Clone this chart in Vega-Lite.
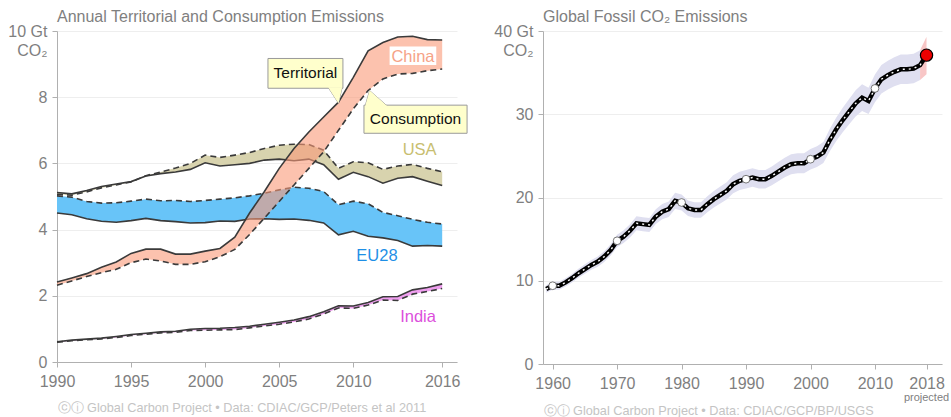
{
  "$schema": "https://vega.github.io/schema/vega-lite/v6.json",
  "background": "white",
  "padding": {"left": 7, "top": 9, "right": 2, "bottom": 2},
  "bounds": "flush",
  "spacing": 86,
  "config": {
    "font": "Liberation Sans",
    "view": {"stroke": null},
    "axis": {
      "labelFont": "Liberation Sans", "labelFontSize": 16, "labelColor": "#7f7f7f",
      "domainColor": "#b0b0b0", "tickColor": "#b0b0b0", "tickSize": 5,
      "gridColor": "#eeeeee", "titleFont": "Liberation Sans", "titleFontWeight": "normal",
      "titleFontSize": 12.7, "titleColor": "#c4c4c4", "labelOverlap": false, "labelFlush": false
    }
  },
  "datasets": {
    "emis": [
      {"c":"China","year":1990,"terr":2.42,"cons":2.32},{"c":"China","year":1991,"terr":2.54,"cons":2.45},{"c":"China","year":1992,"terr":2.67,"cons":2.58},{"c":"China","year":1993,"terr":2.86,"cons":2.7},{"c":"China","year":1994,"terr":3.02,"cons":2.8},{"c":"China","year":1995,"terr":3.28,"cons":3.0},{"c":"China","year":1996,"terr":3.41,"cons":3.11},{"c":"China","year":1997,"terr":3.41,"cons":3.05},{"c":"China","year":1998,"terr":3.26,"cons":2.95},{"c":"China","year":1999,"terr":3.26,"cons":2.95},{"c":"China","year":2000,"terr":3.35,"cons":3.03},{"c":"China","year":2001,"terr":3.43,"cons":3.18},{"c":"China","year":2002,"terr":3.77,"cons":3.4},{"c":"China","year":2003,"terr":4.5,"cons":3.85},{"c":"China","year":2004,"terr":5.15,"cons":4.35},{"c":"China","year":2005,"terr":5.85,"cons":4.85},{"c":"China","year":2006,"terr":6.45,"cons":5.35},{"c":"China","year":2007,"terr":6.95,"cons":5.85},{"c":"China","year":2008,"terr":7.4,"cons":6.35},{"c":"China","year":2009,"terr":7.85,"cons":7.0},{"c":"China","year":2010,"terr":8.6,"cons":7.65},{"c":"China","year":2011,"terr":9.4,"cons":8.2},{"c":"China","year":2012,"terr":9.65,"cons":8.55},{"c":"China","year":2013,"terr":9.82,"cons":8.7},{"c":"China","year":2014,"terr":9.84,"cons":8.72},{"c":"China","year":2015,"terr":9.74,"cons":8.8},{"c":"China","year":2016,"terr":9.73,"cons":8.85},
      {"c":"USA","year":1990,"terr":5.12,"cons":5.07},{"c":"USA","year":1991,"terr":5.08,"cons":5.04},{"c":"USA","year":1992,"terr":5.18,"cons":5.14},{"c":"USA","year":1993,"terr":5.3,"cons":5.26},{"c":"USA","year":1994,"terr":5.38,"cons":5.35},{"c":"USA","year":1995,"terr":5.45,"cons":5.44},{"c":"USA","year":1996,"terr":5.62,"cons":5.63},{"c":"USA","year":1997,"terr":5.69,"cons":5.74},{"c":"USA","year":1998,"terr":5.74,"cons":5.86},{"c":"USA","year":1999,"terr":5.82,"cons":6.0},{"c":"USA","year":2000,"terr":6.02,"cons":6.25},{"c":"USA","year":2001,"terr":5.92,"cons":6.18},{"c":"USA","year":2002,"terr":5.96,"cons":6.25},{"c":"USA","year":2003,"terr":6.0,"cons":6.33},{"c":"USA","year":2004,"terr":6.1,"cons":6.45},{"c":"USA","year":2005,"terr":6.13,"cons":6.55},{"c":"USA","year":2006,"terr":6.08,"cons":6.58},{"c":"USA","year":2007,"terr":6.13,"cons":6.57},{"c":"USA","year":2008,"terr":5.96,"cons":6.4},{"c":"USA","year":2009,"terr":5.52,"cons":5.85},{"c":"USA","year":2010,"terr":5.73,"cons":6.05},{"c":"USA","year":2011,"terr":5.6,"cons":6.02},{"c":"USA","year":2012,"terr":5.4,"cons":5.82},{"c":"USA","year":2013,"terr":5.55,"cons":5.92},{"c":"USA","year":2014,"terr":5.6,"cons":5.97},{"c":"USA","year":2015,"terr":5.46,"cons":5.85},{"c":"USA","year":2016,"terr":5.33,"cons":5.75},
      {"c":"EU28","year":1990,"terr":4.5,"cons":5.02},{"c":"EU28","year":1991,"terr":4.45,"cons":4.98},{"c":"EU28","year":1992,"terr":4.33,"cons":4.85},{"c":"EU28","year":1993,"terr":4.25,"cons":4.8},{"c":"EU28","year":1994,"terr":4.22,"cons":4.81},{"c":"EU28","year":1995,"terr":4.27,"cons":4.86},{"c":"EU28","year":1996,"terr":4.34,"cons":4.92},{"c":"EU28","year":1997,"terr":4.27,"cons":4.87},{"c":"EU28","year":1998,"terr":4.24,"cons":4.88},{"c":"EU28","year":1999,"terr":4.2,"cons":4.85},{"c":"EU28","year":2000,"terr":4.21,"cons":4.88},{"c":"EU28","year":2001,"terr":4.26,"cons":4.92},{"c":"EU28","year":2002,"terr":4.25,"cons":4.96},{"c":"EU28","year":2003,"terr":4.32,"cons":5.02},{"c":"EU28","year":2004,"terr":4.33,"cons":5.1},{"c":"EU28","year":2005,"terr":4.31,"cons":5.2},{"c":"EU28","year":2006,"terr":4.32,"cons":5.28},{"c":"EU28","year":2007,"terr":4.28,"cons":5.25},{"c":"EU28","year":2008,"terr":4.2,"cons":5.15},{"c":"EU28","year":2009,"terr":3.84,"cons":4.75},{"c":"EU28","year":2010,"terr":3.95,"cons":4.86},{"c":"EU28","year":2011,"terr":3.8,"cons":4.78},{"c":"EU28","year":2012,"terr":3.75,"cons":4.52},{"c":"EU28","year":2013,"terr":3.67,"cons":4.42},{"c":"EU28","year":2014,"terr":3.5,"cons":4.31},{"c":"EU28","year":2015,"terr":3.52,"cons":4.22},{"c":"EU28","year":2016,"terr":3.5,"cons":4.17},
      {"c":"India","year":1990,"terr":0.61,"cons":0.6},{"c":"India","year":1991,"terr":0.66,"cons":0.64},{"c":"India","year":1992,"terr":0.69,"cons":0.67},{"c":"India","year":1993,"terr":0.72,"cons":0.7},{"c":"India","year":1994,"terr":0.77,"cons":0.74},{"c":"India","year":1995,"terr":0.83,"cons":0.8},{"c":"India","year":1996,"terr":0.87,"cons":0.84},{"c":"India","year":1997,"terr":0.91,"cons":0.88},{"c":"India","year":1998,"terr":0.93,"cons":0.9},{"c":"India","year":1999,"terr":0.99,"cons":0.95},{"c":"India","year":2000,"terr":1.01,"cons":0.96},{"c":"India","year":2001,"terr":1.02,"cons":0.97},{"c":"India","year":2002,"terr":1.04,"cons":0.98},{"c":"India","year":2003,"terr":1.08,"cons":1.03},{"c":"India","year":2004,"terr":1.14,"cons":1.09},{"c":"India","year":2005,"terr":1.2,"cons":1.14},{"c":"India","year":2006,"terr":1.27,"cons":1.21},{"c":"India","year":2007,"terr":1.37,"cons":1.3},{"c":"India","year":2008,"terr":1.52,"cons":1.45},{"c":"India","year":2009,"terr":1.7,"cons":1.63},{"c":"India","year":2010,"terr":1.69,"cons":1.62},{"c":"India","year":2011,"terr":1.8,"cons":1.72},{"c":"India","year":2012,"terr":1.97,"cons":1.87},{"c":"India","year":2013,"terr":1.98,"cons":1.86},{"c":"India","year":2014,"terr":2.18,"cons":2.05},{"c":"India","year":2015,"terr":2.25,"cons":2.13},{"c":"India","year":2016,"terr":2.36,"cons":2.22}
    ],
    "ptr": [
      {"id":"T","year":2008.3,"v":8.3,"v2":8.3},{"id":"T","year":2009.0,"v":7.82,"v2":8.3},{"id":"T","year":2009.25,"v":8.3,"v2":8.3},
      {"id":"C","year":2010.8,"v":7.73,"v2":7.73},{"id":"C","year":2011.1,"v":8.2,"v2":7.73},{"id":"C","year":2012.3,"v":7.73,"v2":7.73}
    ],
    "box": [
      {"id":"T","year":2004.24,"year2":2009.3,"v":8.27,"v2":9.17},
      {"id":"C","year":2010.72,"year2":2017.68,"v":6.91,"v2":7.76}
    ],
    "callout": [
      {"t":"Territorial","year":2006.77,"v":8.72},
      {"t":"Consumption","year":2014.2,"v":7.34}
    ],
    "chinabox": [{"year":2012.45,"year2":2015.6,"v":8.97,"v2":9.53}],
    "clabels": [
      {"t":"China","year":2014.03,"v":9.22},
      {"t":"USA","year":2014.48,"v":6.4},
      {"t":"EU28","year":2011.6,"v":3.2},
      {"t":"India","year":2014.37,"v":1.37}
    ],
    "global": [
      {"year":1959,"v":9.0,"lo":8.55,"hi":9.45},{"year":1960,"v":9.4,"lo":8.93,"hi":9.87},{"year":1961,"v":9.4,"lo":8.93,"hi":9.87},{"year":1962,"v":9.8,"lo":9.31,"hi":10.29},{"year":1963,"v":10.3,"lo":9.79,"hi":10.82},{"year":1964,"v":10.9,"lo":10.36,"hi":11.45},{"year":1965,"v":11.4,"lo":10.83,"hi":11.97},{"year":1966,"v":11.9,"lo":11.31,"hi":12.5},{"year":1967,"v":12.3,"lo":11.69,"hi":12.92},{"year":1968,"v":12.9,"lo":12.26,"hi":13.55},{"year":1969,"v":13.7,"lo":13.02,"hi":14.39},
      {"year":1970,"v":14.8,"lo":14.06,"hi":15.54},{"year":1971,"v":15.3,"lo":14.54,"hi":16.07},{"year":1972,"v":16.0,"lo":15.2,"hi":16.8},{"year":1973,"v":16.9,"lo":16.06,"hi":17.75},{"year":1974,"v":16.8,"lo":15.96,"hi":17.64},{"year":1975,"v":16.7,"lo":15.87,"hi":17.54},{"year":1976,"v":17.7,"lo":16.82,"hi":18.59},{"year":1977,"v":18.3,"lo":17.39,"hi":19.22},{"year":1978,"v":18.6,"lo":17.67,"hi":19.53},{"year":1979,"v":19.6,"lo":18.62,"hi":20.58},
      {"year":1980,"v":19.4,"lo":18.43,"hi":20.37},{"year":1981,"v":18.7,"lo":17.77,"hi":19.64},{"year":1982,"v":18.5,"lo":17.58,"hi":19.43},{"year":1983,"v":18.5,"lo":17.58,"hi":19.43},{"year":1984,"v":19.2,"lo":18.24,"hi":20.16},{"year":1985,"v":19.8,"lo":18.81,"hi":20.79},{"year":1986,"v":20.3,"lo":19.29,"hi":21.32},{"year":1987,"v":20.8,"lo":19.76,"hi":21.84},{"year":1988,"v":21.6,"lo":20.52,"hi":22.68},{"year":1989,"v":22.0,"lo":20.9,"hi":23.1},
      {"year":1990,"v":22.2,"lo":21.09,"hi":23.31},{"year":1991,"v":22.4,"lo":21.28,"hi":23.52},{"year":1992,"v":22.2,"lo":21.09,"hi":23.31},{"year":1993,"v":22.2,"lo":21.09,"hi":23.31},{"year":1994,"v":22.6,"lo":21.47,"hi":23.73},{"year":1995,"v":23.1,"lo":21.95,"hi":24.26},{"year":1996,"v":23.6,"lo":22.42,"hi":24.78},{"year":1997,"v":24.0,"lo":22.8,"hi":25.2},{"year":1998,"v":24.1,"lo":22.9,"hi":25.31},{"year":1999,"v":24.1,"lo":22.9,"hi":25.31},
      {"year":2000,"v":24.6,"lo":23.37,"hi":25.83},{"year":2001,"v":24.9,"lo":23.66,"hi":26.15},{"year":2002,"v":25.4,"lo":24.13,"hi":26.67},{"year":2003,"v":26.9,"lo":25.56,"hi":28.25},{"year":2004,"v":28.2,"lo":26.79,"hi":29.61},{"year":2005,"v":29.3,"lo":27.84,"hi":30.77},{"year":2006,"v":30.3,"lo":28.79,"hi":31.82},{"year":2007,"v":31.3,"lo":29.74,"hi":32.87},{"year":2008,"v":32.0,"lo":30.4,"hi":33.6},{"year":2009,"v":31.6,"lo":30.02,"hi":33.18},
      {"year":2010,"v":33.1,"lo":31.45,"hi":34.76},{"year":2011,"v":34.2,"lo":32.49,"hi":35.91},{"year":2012,"v":34.7,"lo":32.97,"hi":36.44},{"year":2013,"v":35.1,"lo":33.35,"hi":36.86},{"year":2014,"v":35.4,"lo":33.63,"hi":37.17},{"year":2015,"v":35.4,"lo":33.63,"hi":37.17},{"year":2016,"v":35.5,"lo":33.73,"hi":37.28},{"year":2017,"v":35.9,"lo":34.11,"hi":37.7},{"year":2018,"v":37.1}
    ],
    "proj": [{"year":2017,"lo":34.11,"hi":37.7},{"year":2018,"lo":34.8,"hi":39.3}],
    "circles": [{"year":1960,"v":9.4},{"year":1970,"v":14.8},{"year":1980,"v":19.4},{"year":1990,"v":22.2},{"year":2000,"v":24.6},{"year":2010,"v":33.1}],
    "red": [{"year":2018,"v":37.1}]
  },
  "hconcat": [
    {
      "width": 400, "height": 331,
      "title": {"text": "Annual Territorial and Consumption Emissions", "anchor": "start", "frame": "group", "fontSize": 16, "fontWeight": "normal", "color": "#808080", "offset": -2},
      "encoding": {
        "x": {"field": "year", "type": "quantitative",
          "scale": {"domain": [1990, 2017], "nice": false, "zero": false},
          "axis": {"values": [1990, 1995, 2000, 2005, 2010, 2016], "format": "d", "grid": false, "labelPadding": 6,
            "title": "ⓒⓘ Global Carbon Project  •  Data: CDIAC/GCP/Peters et al 2011", "titleAnchor": "start", "titlePadding": 12}}
      },
      "layer": [
        {"data": {"name": "emis"}, "transform": [{"filter": "datum.c != 'China'"}],
         "mark": {"type": "area", "opacity": 1},
         "encoding": {
           "y": {"field": "cons", "type": "quantitative", "title": null,
             "scale": {"domain": [0, 10], "nice": false},
             "axis": {"values": [0, 2, 4, 6, 8, 10], "grid": true, "labelPadding": 5, "labelLineHeight": 19,
               "labelExpr": "datum.value == 10 ? ['10 Gt', 'CO₂'] : datum.label"}},
           "y2": {"field": "terr"},
           "color": {"field": "c", "type": "nominal", "legend": null,
             "scale": {"domain": ["USA", "EU28", "India"], "range": ["#d8d3ae", "#68c4f8", "#ef9fef"]}}
         }},
        {"data": {"name": "emis"}, "transform": [{"filter": "datum.c != 'China'"}],
         "mark": {"type": "line", "color": "#3a3a3a", "strokeWidth": 1.6},
         "encoding": {"y": {"field": "terr", "type": "quantitative", "title": null}, "detail": {"field": "c"}}},
        {"data": {"name": "emis"}, "transform": [{"filter": "datum.c != 'China'"}],
         "mark": {"type": "line", "color": "#3a3a3a", "strokeWidth": 1.6, "strokeDash": [6, 4]},
         "encoding": {"y": {"field": "cons", "type": "quantitative", "title": null}, "detail": {"field": "c"}}},
        {"data": {"name": "emis"}, "transform": [{"filter": "datum.c == 'China'"}],
         "mark": {"type": "area", "color": "#fa9a78", "opacity": 0.6},
         "encoding": {"y": {"field": "cons", "type": "quantitative", "title": null}, "y2": {"field": "terr"}}},
        {"data": {"name": "emis"}, "transform": [{"filter": "datum.c == 'China'"}],
         "mark": {"type": "line", "color": "#3a3a3a", "strokeWidth": 1.6},
         "encoding": {"y": {"field": "terr", "type": "quantitative", "title": null}}},
        {"data": {"name": "emis"}, "transform": [{"filter": "datum.c == 'China'"}],
         "mark": {"type": "line", "color": "#3a3a3a", "strokeWidth": 1.6, "strokeDash": [6, 4]},
         "encoding": {"y": {"field": "cons", "type": "quantitative", "title": null}}},
        {"data": {"name": "ptr"},
         "mark": {"type": "area", "color": "#ffffcc", "stroke": "#9a9a9a", "strokeWidth": 1},
         "encoding": {"y": {"field": "v", "type": "quantitative", "title": null}, "y2": {"field": "v2"}, "detail": {"field": "id"}}},
        {"data": {"name": "box"},
         "mark": {"type": "rect", "color": "#ffffcc", "stroke": "#9a9a9a", "strokeWidth": 1},
         "encoding": {"x2": {"field": "year2"}, "y": {"field": "v", "type": "quantitative", "title": null}, "y2": {"field": "v2"}}},
        {"data": {"name": "ptr"},
         "mark": {"type": "area", "color": "#ffffcc"},
         "encoding": {"y": {"field": "v", "type": "quantitative", "title": null}, "y2": {"field": "v2"}, "detail": {"field": "id"}}},
        {"data": {"name": "callout"},
         "mark": {"type": "text", "fontSize": 15.5, "color": "#111111", "font": "Liberation Sans"},
         "encoding": {"y": {"field": "v", "type": "quantitative", "title": null}, "text": {"field": "t"}}},
        {"data": {"name": "chinabox"},
         "mark": {"type": "rect", "color": "white"},
         "encoding": {"x2": {"field": "year2"}, "y": {"field": "v", "type": "quantitative", "title": null}, "y2": {"field": "v2"}}},
        {"data": {"name": "clabels"},
         "mark": {"type": "text", "fontSize": 16.5, "font": "Liberation Sans"},
         "encoding": {"y": {"field": "v", "type": "quantitative", "title": null}, "text": {"field": "t"},
           "color": {"field": "t", "type": "nominal", "legend": null,
             "scale": {"domain": ["China", "USA", "EU28", "India"], "range": ["#f6a387", "#c8be70", "#1e8fe6", "#dc4fdc"]}}}}
      ],
      "resolve": {"scale": {"color": "independent"}}
    },
    {
      "width": 399, "height": 333,
      "title": {"text": "Global Fossil CO₂ Emissions", "anchor": "start", "frame": "group", "fontSize": 16, "fontWeight": "normal", "color": "#808080", "offset": -2},
      "encoding": {
        "x": {"field": "year", "type": "quantitative",
          "scale": {"domain": [1958.5, 2020.4], "nice": false, "zero": false},
          "axis": {"values": [1960, 1970, 1980, 1990, 2000, 2010, 2018], "format": "d", "grid": false, "labelPadding": 6,
            "title": "ⓒⓘ Global Carbon Project  •  Data: CDIAC/GCP/BP/USGS", "titleAnchor": "start", "titlePadding": 13}}
      },
      "layer": [
        {"data": {"name": "global"}, "transform": [{"filter": "datum.year <= 2017"}],
         "mark": {"type": "area", "color": "#dfdff0"},
         "encoding": {
           "y": {"field": "lo", "type": "quantitative", "title": null,
             "scale": {"domain": [0, 40], "nice": false},
             "axis": {"values": [0, 10, 20, 30, 40], "grid": true, "labelPadding": 5, "labelLineHeight": 19,
               "labelExpr": "datum.value == 40 ? ['40 Gt', 'CO₂'] : datum.label"}},
           "y2": {"field": "hi"}
         }},
        {"data": {"name": "proj"},
         "mark": {"type": "area", "color": "#f8c6c6"},
         "encoding": {"y": {"field": "lo", "type": "quantitative", "title": null}, "y2": {"field": "hi"}}},
        {"data": {"name": "global"},
         "mark": {"type": "line", "color": "#000000", "strokeWidth": 4.5},
         "encoding": {"y": {"field": "v", "type": "quantitative", "title": null}}},
        {"data": {"name": "global"},
         "mark": {"type": "line", "color": "#ffffff", "strokeWidth": 1.4, "strokeDash": [2, 4]},
         "encoding": {"y": {"field": "v", "type": "quantitative", "title": null}}},
        {"data": {"name": "circles"},
         "mark": {"type": "point", "filled": true, "fill": "white", "stroke": "#555555", "strokeWidth": 0.8, "size": 60, "opacity": 1},
         "encoding": {"y": {"field": "v", "type": "quantitative", "title": null}}},
        {"data": {"name": "red"},
         "mark": {"type": "point", "filled": true, "fill": "#ee0000", "stroke": "#000000", "strokeWidth": 1.2, "size": 150, "opacity": 1},
         "encoding": {"y": {"field": "v", "type": "quantitative", "title": null}}},
        {"data": {"name": "red"},
         "mark": {"type": "text", "text": "projected", "fontSize": 11, "color": "#808080", "dy": 34, "font": "Liberation Sans"},
         "encoding": {"y": {"datum": 0}}}
      ]
    }
  ]
}
